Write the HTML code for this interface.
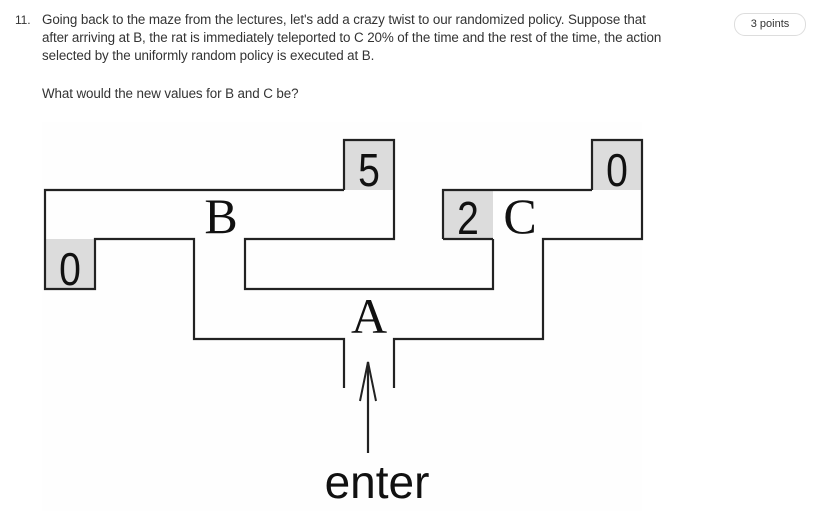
<!DOCTYPE html>
<html><head><meta charset="utf-8"><style>
body{margin:0;width:827px;height:511px;background:#fff;position:relative;overflow:hidden;font-family:"Liberation Sans",sans-serif;color:#333}
.t{position:absolute;font-size:13.4px;line-height:18px;letter-spacing:-0.1px;white-space:nowrap}
.pill{position:absolute;left:734px;top:13px;width:70px;height:21px;border:1px solid #ddd;border-radius:11px;font-size:11px;line-height:21px;text-align:center;color:#333}
</style></head><body>
<div class="t" style="left:15px;top:11px;font-size:12px">11.</div>
<div class="t" style="left:42px;top:11px">Going back to the maze from the lectures, let's add a crazy twist to our randomized policy. Suppose that<br>after arriving at B, the rat is immediately teleported to C 20% of the time and the rest of the time, the action<br>selected by the uniformly random policy is executed at B.</div>
<div class="t" style="left:42px;top:85px">What would the new values for B and C be?</div>
<div class="pill">3 points</div>
<svg width="827" height="511" style="position:absolute;left:0;top:0">
<rect x="42" y="122" width="600" height="389" fill="#fefefe"/>
<g fill="#dcdcdc">
<rect x="344" y="140" width="50" height="50"/>
<rect x="592" y="140" width="50" height="50"/>
<rect x="443" y="190" width="50" height="49"/>
<rect x="45" y="239" width="50" height="50"/>
</g>
<g fill="none" stroke="#222" stroke-width="2.2">
<path d="M344 190 V140 H394 V239 H245 V289 H493 V239"/>
<path d="M344 190 H45 V289 H95 V239 H194 V339 H344 V388"/>
<path d="M592 190 V140 H642 V239 H543 V339 H394 V388"/>
<path d="M443 239 V190 H592"/>
<path d="M443 239 H493"/>
<path d="M368 453 V362"/>
<path d="M360 401 L368 362 L376 401" stroke-width="2"/>
</g>
<g font-family="Liberation Sans, sans-serif" font-size="46" fill="#111" text-anchor="middle">
<text x="369" y="186" transform="translate(369 0) scale(0.85 1) translate(-369 0)">5</text>
<text x="617" y="186" transform="translate(617 0) scale(0.85 1) translate(-617 0)">0</text>
<text x="468" y="234" transform="translate(468 0) scale(0.85 1) translate(-468 0)">2</text>
<text x="70" y="285" transform="translate(70 0) scale(0.85 1) translate(-70 0)">0</text>
<text x="377" y="498" font-size="46">enter</text>
</g>
<g font-family="Liberation Serif, serif" font-size="50" fill="#111" text-anchor="middle">
<text x="221" y="233">B</text>
<text x="520" y="233">C</text>
<text x="369" y="333">A</text>
</g>
</svg>
</body></html>
